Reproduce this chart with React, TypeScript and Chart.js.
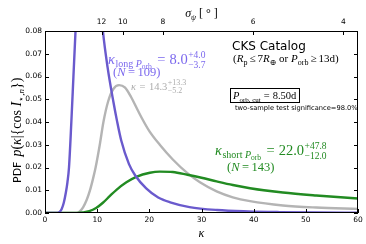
import { useEffect, useRef } from 'react';
import { Chart, registerables } from 'chart.js';
Chart.register(...registerables);

// kappa_long P_orb posterior (purple)
const longKappa = [0, 2.4, 2.8, 3.2, 3.6, 4.0, 4.3, 4.6, 5.05, 5.45, 5.85, 6.5, 7.2, 8.0, 9.0, 10.0, 11.1, 12.0, 13.1, 13.8, 14.6, 16.1, 17.3, 19.4, 21.7, 24.0, 27.7, 33.0, 39.0, 45.0, 52.0, 60.0];
const longPdf = [0, 0, 0.0005, 0.0018, 0.0045, 0.009, 0.0135, 0.02, 0.04, 0.06, 0.08, 0.11, 0.135, 0.145, 0.135, 0.11, 0.08, 0.064, 0.049, 0.0405, 0.032, 0.0215, 0.0165, 0.0108, 0.0068, 0.0047, 0.0026, 0.0013, 0.0007, 0.0004, 0.0002, 0.0001];

// kappa (all) posterior (gray)
const allKappa = [0, 6.0, 6.6, 7.3, 8.0, 8.6, 9.2, 9.7, 10.5, 11.2, 12.1, 13.1, 14.2, 15.3, 16.5, 17.5, 18.5, 20.0, 22.0, 24.5, 27.3, 29.7, 32.9, 36.0, 39.3, 45.6, 52.0, 60.0];
const allPdf = [0, 0, 0.0006, 0.0025, 0.0058, 0.0098, 0.015, 0.02, 0.03, 0.04, 0.049, 0.0545, 0.0562, 0.0552, 0.051, 0.0465, 0.042, 0.036, 0.03, 0.0235, 0.0175, 0.0135, 0.0095, 0.0069, 0.0052, 0.0033, 0.0024, 0.0018];

// kappa_short P_orb posterior (green)
const shortKappa = [0, 6.3, 7.2, 8.5, 9.8, 11.1, 12.4, 13.7, 15.6, 17.5, 20.1, 22.0, 24.5, 27.3, 30.0, 32.9, 36.0, 39.3, 45.6, 52.0, 60.0];
const shortPdf = [0, 0, 0.0002, 0.0008, 0.0022, 0.0045, 0.0074, 0.0102, 0.0135, 0.0159, 0.0177, 0.0182, 0.018, 0.0168, 0.0155, 0.0139, 0.0123, 0.0109, 0.009, 0.0077, 0.0064];

// top axis: sigma_psi [deg] labels placed at kappa positions
const sigmaTickLabels = ['12', '10', '8', '6', '4'];
const sigmaTickKappa = [10.85, 14.9, 22.6, 39.9, 57.2];

const SERIF = '"Liberation Serif", "DejaVu Serif", serif';
const SANS = '"DejaVu Sans", sans-serif';

type Run = {
  t?: string;
  size: number;
  italic?: boolean;
  sans?: boolean;
  dy?: number;
  sup?: string;
  sub?: string;
  supDy?: number;
  subDy?: number;
  gap?: number;
};

function fontOf(r: Run) {
  return `${r.italic ? 'italic ' : ''}${r.size}px ${r.sans ? SANS : SERIF}`;
}

function measureRuns(ctx: CanvasRenderingContext2D, runs: Run[]) {
  let w = 0;
  for (const r of runs) {
    ctx.font = fontOf(r);
    if (r.sup !== undefined || r.sub !== undefined) {
      w += Math.max(ctx.measureText(r.sup || '').width, ctx.measureText(r.sub || '').width);
    } else {
      w += ctx.measureText(r.t || '').width;
    }
    w += r.gap || 0;
  }
  return w;
}

function drawRuns(ctx: CanvasRenderingContext2D, runs: Run[], x: number, y: number, color: string) {
  let cx = x;
  ctx.fillStyle = color;
  ctx.textAlign = 'left';
  ctx.textBaseline = 'alphabetic';
  for (const r of runs) {
    ctx.font = fontOf(r);
    if (r.sup !== undefined || r.sub !== undefined) {
      const a = r.sup || '';
      const b = r.sub || '';
      ctx.fillText(a, cx, y + (r.supDy ?? -6));
      ctx.fillText(b, cx, y + (r.subDy ?? 4));
      cx += Math.max(ctx.measureText(a).width, ctx.measureText(b).width);
    } else {
      ctx.fillText(r.t || '', cx, y + (r.dy || 0));
      cx += ctx.measureText(r.t || '').width;
    }
    cx += r.gap || 0;
  }
}

const PURPLE_LINE = '#6a5acd';
const PURPLE_TEXT = '#7b68ee';
const GRAY_LINE = '#b4b4b4';
const GRAY_TEXT = '#acacac';
const GREEN = '#228b22';

function kappaLabel(name: string, value: string, up: string, down: string): Run[] {
  return [
    { t: 'κ', size: 14.5, italic: true, gap: 0.5 },
    { t: name, size: 10, dy: 3, gap: 2.5 },
    { t: 'P', size: 10, italic: true, dy: 3 },
    { t: 'orb', size: 7.5, dy: 5, gap: 5.5 },
    { t: '=', size: 14.5, gap: 4 },
    { t: value, size: 14.5, gap: 0.5 },
    { sup: up, sub: down, size: 9.5, supDy: -6.5, subDy: 4 },
  ];
}

function nLabel(n: string): Run[] {
  return [
    { t: '(', size: 12.5 },
    { t: 'N', size: 12.5, italic: true, gap: 2.5 },
    { t: '=', size: 12.5, gap: 2.5 },
    { t: n + ')', size: 12.5 },
  ];
}

const annotations = {
  id: 'annotations',
  afterDraw(chart: any) {
    const ctx: CanvasRenderingContext2D = chart.ctx;
    const { left, right, top, bottom } = chart.chartArea;
    ctx.save();
    // frame
    ctx.strokeStyle = '#000';
    ctx.lineWidth = 1;
    ctx.strokeRect(Math.round(left) + 0.5, Math.round(top) + 0.5, Math.round(right - left) - 1, Math.round(bottom - top) - 1);
    // inward ticks
    const tl = 4;
    ctx.beginPath();
    const ys = chart.scales.y;
    ys.ticks.forEach((t: any) => {
      const py = Math.round(ys.getPixelForValue(t.value)) + 0.5;
      ctx.moveTo(left, py); ctx.lineTo(left + tl, py);
      ctx.moveTo(right - tl, py); ctx.lineTo(right, py);
    });
    const xs = chart.scales.x;
    xs.ticks.forEach((t: any) => {
      const px = Math.round(xs.getPixelForValue(t.value)) + 0.5;
      ctx.moveTo(px, bottom); ctx.lineTo(px, bottom - tl);
    });
    const xt = chart.scales.xTop;
    xt.ticks.forEach((t: any) => {
      const px = Math.round(xt.getPixelForValue(t.value)) + 0.5;
      ctx.moveTo(px, top); ctx.lineTo(px, top + tl);
    });
    ctx.stroke();

    // purple label
    drawRuns(ctx, kappaLabel('long', '8.0', '+4.0', '−3.7'), 108, 64, PURPLE_TEXT);
    drawRuns(ctx, nLabel('109'), 113, 76, PURPLE_TEXT);

    // gray label
    drawRuns(ctx, [
      { t: 'κ', size: 10.5, italic: true, gap: 3.5 },
      { t: '=', size: 10.5, gap: 3.5 },
      { t: '14.3', size: 10.5, gap: 0.5 },
      { sup: '+13.3', sub: '−5.2', size: 8, supDy: -5, subDy: 3 },
    ], 131, 90, GRAY_TEXT);

    // green label
    drawRuns(ctx, kappaLabel('short', '22.0', '+47.8', '−12.0'), 215, 155, GREEN);
    drawRuns(ctx, nLabel('143'), 227, 171, GREEN);

    // CKS Catalog
    drawRuns(ctx, [{ t: 'CKS Catalog', size: 12, sans: true }], 232, 50, '#000');
    drawRuns(ctx, [
      { t: '(', size: 11 },
      { t: 'R', size: 11, italic: true },
      { t: 'p', size: 8, dy: 2.5, gap: 2 },
      { t: '≤', size: 11, gap: 2 },
      { t: '7', size: 11 },
      { t: 'R', size: 11, italic: true },
      { t: '⊕', size: 8, dy: 2.5 },
      { t: ' or ', size: 11 },
      { t: 'P', size: 11, italic: true },
      { t: 'orb', size: 8, dy: 2.5, gap: 2 },
      { t: '≥', size: 11, gap: 2 },
      { t: '13d)', size: 11 },
    ], 233, 62, '#000');

    // boxed cut
    const boxRuns: Run[] = [
      { t: 'P', size: 10.5, italic: true },
      { t: 'orb', size: 7, dy: 2.5 },
      { t: ', cut', size: 7, dy: 2.5, gap: 3 },
      { t: '=', size: 10.5, gap: 3 },
      { t: '8.50d', size: 10.5 },
    ];
    const bw = measureRuns(ctx, boxRuns);
    drawRuns(ctx, boxRuns, 233, 99, '#000');
    ctx.strokeStyle = '#000';
    ctx.lineWidth = 1;
    ctx.strokeRect(230.5, 88.5, Math.round(bw) + 6, 14);

    drawRuns(ctx, [{ t: 'two-sample test significance=98.0%', size: 6.7, sans: true }], 235, 110, '#000');

    // x-axis label
    const xl: Run[] = [{ t: 'κ', size: 12, italic: true }];
    const xlw = measureRuns(ctx, xl);
    drawRuns(ctx, xl, (left + right) / 2 - xlw / 2, 237, '#000');

    // top axis label
    const tlab: Run[] = [
      { t: 'σ', size: 12, italic: true },
      { t: 'ψ', size: 8, italic: true, dy: 3 },
      { t: ' [ ° ]', size: 12 },
    ];
    const tw = measureRuns(ctx, tlab);
    drawRuns(ctx, tlab, (left + right) / 2 - tw / 2, 17, '#000');

    // y-axis label (rotated)
    ctx.translate(21, 183);
    ctx.rotate(-Math.PI / 2);
    drawRuns(ctx, [
      { t: 'PDF', size: 11, sans: true, gap: 5 },
      { t: 'p', size: 14, italic: true },
      { t: '(', size: 14 },
      { t: 'κ', size: 14, italic: true },
      { t: '|{cos ', size: 14 },
      { t: 'I', size: 14, italic: true },
      { t: '⋆,', size: 9, dy: 3 },
      { t: 'n', size: 9, italic: true, dy: 3 },
      { t: '})', size: 14 },
    ], 0, 0, '#000');
    ctx.restore();
  },
};

export default function App() {
  const ref = useRef<HTMLCanvasElement | null>(null);
  useEffect(() => {
    document.body.style.margin = '0';
    const canvas = ref.current;
    if (!canvas) return;
    const mk = (xs: number[], ys: number[]) => xs.map((x, i) => ({ x, y: ys[i] }));
    const chart = new Chart(canvas, {
      type: 'scatter',
      data: {
        datasets: [
          {
            label: 'long',
            data: mk(longKappa, longPdf),
            showLine: true,
            borderColor: PURPLE_LINE,
            borderWidth: 2.4,
            pointRadius: 0,
            cubicInterpolationMode: 'monotone',
          },
          {
            label: 'short',
            data: mk(shortKappa, shortPdf),
            showLine: true,
            borderColor: GREEN,
            borderWidth: 2.4,
            pointRadius: 0,
            cubicInterpolationMode: 'monotone',
          },
          {
            label: 'all',
            data: mk(allKappa, allPdf),
            showLine: true,
            borderColor: GRAY_LINE,
            borderWidth: 2.4,
            pointRadius: 0,
            cubicInterpolationMode: 'monotone',
          },
        ],
      },
      options: {
        animation: false,
        responsive: false,
        devicePixelRatio: 1,
        layout: { padding: { left: 0, right: 8, top: 0, bottom: 0 } },
        plugins: { legend: { display: false }, tooltip: { enabled: false } },
        scales: {
          x: {
            type: 'linear',
            position: 'bottom',
            min: 0,
            max: 60,
            grid: { display: false, drawTicks: false },
            border: { display: false },
            ticks: { stepSize: 10, color: '#000', padding: 3, font: { family: SANS, size: 7.5 } },
            afterFit: (s: any) => { s.height = 31; },
          },
          xTop: {
            type: 'linear',
            position: 'top',
            min: 0,
            max: 60,
            grid: { display: false, drawTicks: false },
            border: { display: false },
            afterBuildTicks: (s: any) => { s.ticks = sigmaTickKappa.map((v) => ({ value: v })); },
            ticks: {
              autoSkip: false,
              color: '#000',
              padding: 4,
              font: { family: SANS, size: 7.5 },
              callback: (_v: any, i: number) => sigmaTickLabels[i],
            },
            afterFit: (s: any) => { s.height = 31; },
          },
          y: {
            min: 0,
            max: 0.08,
            grid: { display: false, drawTicks: false },
            border: { display: false },
            ticks: {
              stepSize: 0.01,
              color: '#000',
              padding: 3,
              font: { family: SANS, size: 7.5 },
              callback: (v: any) => Number(v).toFixed(2),
            },
            afterFit: (s: any) => { s.width = 45; },
          },
        },
      },
      plugins: [annotations],
    } as any);
    return () => chart.destroy();
  }, []);
  return (
    <div style={{ position: 'absolute', left: 0, top: 0, width: 366, height: 244 }}>
      <canvas ref={ref} width={366} height={244} style={{ width: 366, height: 244 }} />
    </div>
  );
}
